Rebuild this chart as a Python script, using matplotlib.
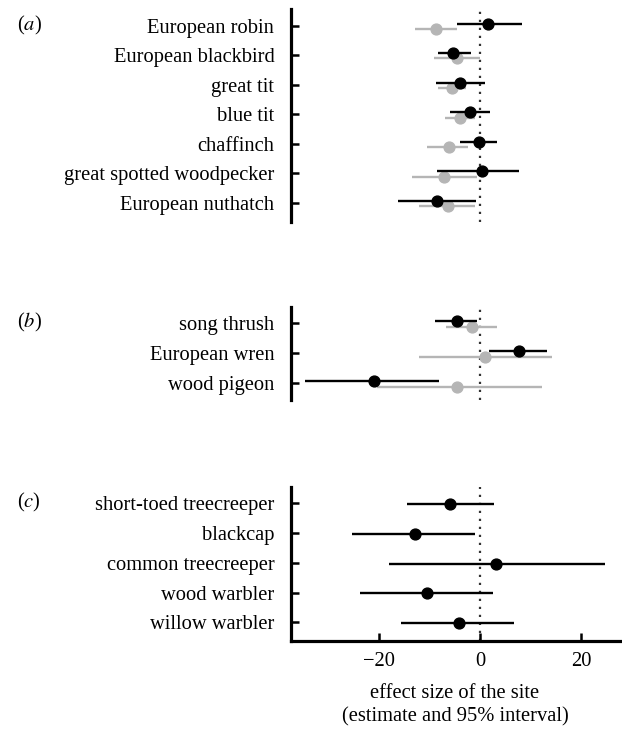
import matplotlib.pyplot as plt

plt.rcParams["font.family"] = ["Liberation Serif", "DejaVu Serif"]
plt.rcParams["mathtext.fontset"] = "stix"

# panel (a)
species_a = ["European robin", "European blackbird", "great tit", "blue tit",
             "chaffinch", "great spotted woodpecker", "European nuthatch"]
est_a_black = [1.6, -5.3, -4.0, -1.9, -0.2, 0.3, -8.5]
lo_a_black = [-4.6, -8.4, -8.8, -5.9, -4.0, -8.5, -16.2]
hi_a_black = [8.4, -1.8, 1.0, 2.0, 3.3, 7.8, -0.8]
est_a_grey = [-8.7, -4.6, -5.5, -3.9, -6.2, -7.2, -6.4]
lo_a_grey = [-12.9, -9.2, -8.4, -7.0, -10.4, -13.5, -12.1]
hi_a_grey = [-4.6, 0.0, -2.8, -0.9, -2.3, -0.5, -1.0]

# panel (b)
species_b = ["song thrush", "European wren", "wood pigeon"]
est_b_black = [-4.6, 7.7, -21.0]
lo_b_black = [-8.9, 1.8, -34.6]
hi_b_black = [-0.5, 13.2, -8.1]
est_b_grey = [-1.6, 1.0, -4.6]
lo_b_grey = [-6.7, -12.1, -20.3]
hi_b_grey = [3.4, 14.3, 12.3]

# panel (c)
species_c = ["short-toed treecreeper", "blackcap", "common treecreeper",
             "wood warbler", "willow warbler"]
est_c = [-5.9, -12.8, 3.1, -10.4, -4.2]
lo_c = [-14.4, -25.3, -18.0, -23.7, -15.6]
hi_c = [2.8, -0.9, 24.8, 2.6, 6.7]

W, H = 622, 729
FS = 14.8
fig = plt.figure(figsize=(W / 100, H / 100), dpi=100)

x0, x1 = 291, 620
xlim = (-37.4, 27.7)
GREY = "#b5b5b5"


def make_ax(top, bottom):
    return fig.add_axes([x0 / W, 1 - bottom / H, (x1 - x0) / W, (bottom - top) / H])


def draw_series(ax, est, lo, hi, offset, color, z):
    for i in range(len(est)):
        y = i + offset
        ax.plot([lo[i], hi[i]], [y, y], color=color, lw=1.7, solid_capstyle="butt", zorder=z)
        ax.plot(est[i], y, "o", color=color, ms=7.8, zorder=z + 0.5)


def style(ax, labels, top_off, bot_off, show_x=False):
    n = len(labels)
    ax.set_xlim(*xlim)
    ax.set_ylim(n - 1 + bot_off, -top_off)
    ax.set_yticks(range(n))
    ax.set_yticklabels(labels, fontsize=FS)
    ax.axvline(0, color="#333333", lw=1.6, linestyle=(0, (1, 2.6)), zorder=1)
    for s in ["top", "right"]:
        ax.spines[s].set_visible(False)
    ax.spines["left"].set_linewidth(2.3)
    ax.tick_params(axis="y", direction="in", length=6, width=1.8, pad=12)
    if show_x:
        ax.spines["bottom"].set_linewidth(2.3)
        ax.set_xticks([-20, 0, 20])
        ax.tick_params(axis="x", direction="in", length=6, width=1.8, pad=8, labelsize=FS)
    else:
        ax.spines["bottom"].set_visible(False)
        ax.set_xticks([])
    ax.set_facecolor("none")


ax_a = make_ax(9, 222)
draw_series(ax_a, est_a_grey, lo_a_grey, hi_a_grey, 0.11, GREY, 2)
draw_series(ax_a, est_a_black, lo_a_black, hi_a_black, -0.07, "black", 3)
style(ax_a, species_a, 0.565, 0.643)

ax_b = make_ax(306.7, 400)
draw_series(ax_b, est_b_grey, lo_b_grey, hi_b_grey, 0.11, GREY, 2)
draw_series(ax_b, est_b_black, lo_b_black, hi_b_black, -0.07, "black", 3)
style(ax_b, species_b, 0.553, 0.557)

ax_c = make_ax(486.7, 640.7)
draw_series(ax_c, est_c, lo_c, hi_c, 0.03, "black", 3)
style(ax_c, species_c, 0.56, 0.62, show_x=True)

fig.text(455 / W, 1 - 693 / H, "effect size of the site", fontsize=FS,
         ha="center", va="center")
fig.text(455 / W, 1 - 717 / H, "(estimate and 95% interval)", fontsize=FS,
         ha="center", va="center")

for lab, yc in [("a", 25), ("b", 322), ("c", 502)]:
    fig.text(17 / W, 1 - yc / H, r"($\mathit{%s}$)" % lab, fontsize=FS,
             ha="left", va="center")

fig.savefig("out.png", dpi=100)
